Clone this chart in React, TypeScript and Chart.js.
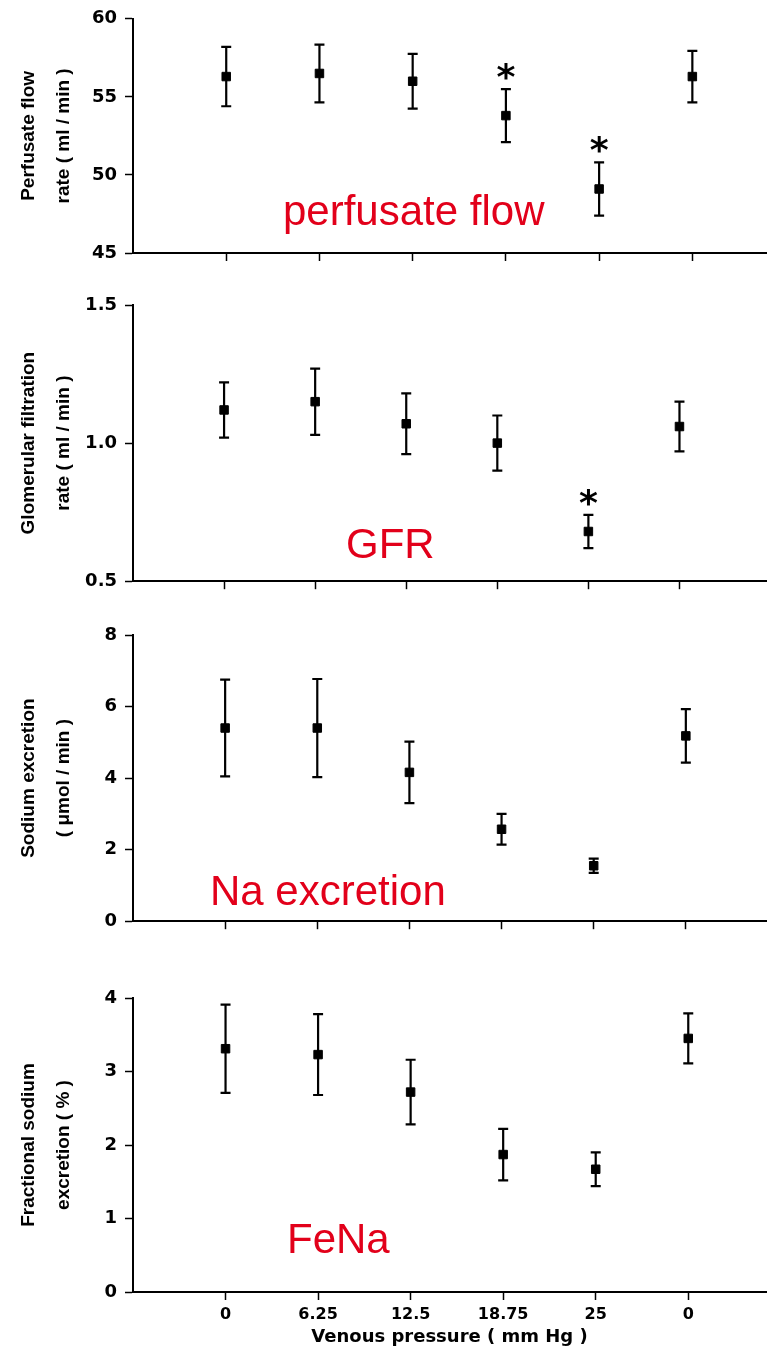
import { useEffect, useRef } from "react";
import { Chart, registerables } from "chart.js";

Chart.register(...registerables);

// Experimental conditions along the x axis (venous pressure steps, then recovery)
const xPositions = [1, 2, 3, 4, 5, 6];
const xTickLabels = ["0", "6.25", "12.5", "18.75", "25", "0"];
const xAxisTitle = "Venous pressure ( mm Hg )";

// Perfusate flow rate (ml/min), mean ± SEM
const flowMean = [56.3, 56.5, 56.0, 53.8, 49.1, 56.3];
const flowErr = [1.9, 1.85, 1.75, 1.7, 1.7, 1.65];
const flowStar = [false, false, false, true, true, false];

// Glomerular filtration rate (ml/min)
const gfrMean = [1.12, 1.15, 1.07, 1.0, 0.68, 1.06];
const gfrErr = [0.1, 0.12, 0.11, 0.1, 0.06, 0.09];
const gfrStar = [false, false, false, false, true, false];

// Sodium excretion (µmol/min)
const naMean = [5.4, 5.4, 4.16, 2.57, 1.55, 5.18];
const naErr = [1.35, 1.37, 0.86, 0.43, 0.2, 0.75];
const naStar = [false, false, false, false, false, false];

// Fractional sodium excretion (%)
const fenaMean = [3.31, 3.23, 2.72, 1.87, 1.67, 3.45];
const fenaErr = [0.6, 0.55, 0.44, 0.35, 0.23, 0.34];
const fenaStar = [false, false, false, false, false, false];

const RED = "#e2001a";
const TICK_FONT = "'DejaVu Sans', Verdana, sans-serif";
const TITLE_FONT = "'Liberation Sans', Arial, Helvetica, sans-serif";

type PanelCfg = {
  top: number;
  height: number;
  padTop: number;
  axisH: number;
  xMax: number;
  yMin: number;
  yMax: number;
  yStep: number;
  decimals: number;
  yTitle: string[];
  mean: number[];
  err: number[];
  star: boolean[];
  note: string;
  noteX: number;
  noteY: number;
  showX: boolean;
};

const panels: PanelCfg[] = [
  {
    top: 0, height: 280, padTop: 18, axisH: 27, xMax: 6.79,
    yMin: 45, yMax: 60, yStep: 5, decimals: 0,
    yTitle: ["Perfusate flow", "rate ( ml / min )"],
    mean: flowMean, err: flowErr, star: flowStar,
    note: "perfusate flow", noteX: 283, noteY: 225, showX: false,
  },
  {
    top: 280, height: 320, padTop: 25, axisH: 16, xMax: 6.95,
    yMin: 0.5, yMax: 1.5, yStep: 0.5, decimals: 1,
    yTitle: ["Glomerular filtration", "rate ( ml / min )"],
    mean: gfrMean, err: gfrErr, star: gfrStar,
    note: "GFR", noteX: 346, noteY: 278, showX: false,
  },
  {
    top: 600, height: 340, padTop: 35, axisH: 15, xMax: 6.87,
    yMin: 0, yMax: 8, yStep: 2, decimals: 0,
    yTitle: ["Sodium excretion", "( μmol / min )"],
    mean: naMean, err: naErr, star: naStar,
    note: "Na excretion", noteX: 210, noteY: 305, showX: false,
  },
  {
    top: 940, height: 417, padTop: 58, axisH: 65, xMax: 6.84,
    yMin: 0, yMax: 4, yStep: 1, decimals: 0,
    yTitle: ["Fractional sodium", "excretion ( % )"],
    mean: fenaMean, err: fenaErr, star: fenaStar,
    note: "FeNa", noteX: 287, noteY: 313, showX: true,
  },
];

// Significance marker, scaled so the glyph has the requested height
function drawStar(ctx: CanvasRenderingContext2D, cx: number, cy: number, glyphH: number) {
  ctx.font = `bold 100px ${TICK_FONT}`;
  const m = ctx.measureText("*");
  const h = m.actualBoundingBoxAscent + m.actualBoundingBoxDescent;
  const size = (glyphH / h) * 100;
  ctx.font = `bold ${size}px ${TICK_FONT}`;
  const m2 = ctx.measureText("*");
  ctx.textAlign = "left";
  ctx.textBaseline = "alphabetic";
  const x = cx - (m2.actualBoundingBoxRight - m2.actualBoundingBoxLeft) / 2;
  const y = cy + (m2.actualBoundingBoxAscent - m2.actualBoundingBoxDescent) / 2;
  ctx.fillStyle = "#000";
  ctx.fillText("*", x, y);
}

function Panel({ cfg }: { cfg: PanelCfg }) {
  const ref = useRef<HTMLCanvasElement>(null);

  useEffect(() => {
    const canvas = ref.current;
    if (!canvas) return;

    const errorBars = {
      id: "errorBars",
      beforeDatasetsDraw(chart: any) {
        const { ctx, scales } = chart;
        const xs = scales.x;
        const ys = scales.y;
        ctx.save();
        ctx.strokeStyle = "#000";
        ctx.lineWidth = 2.2;
        cfg.mean.forEach((m, i) => {
          const px = xs.getPixelForValue(xPositions[i]);
          const top = ys.getPixelForValue(m + cfg.err[i]);
          const bot = ys.getPixelForValue(m - cfg.err[i]);
          ctx.beginPath();
          ctx.moveTo(px, top);
          ctx.lineTo(px, bot);
          ctx.moveTo(px - 5, top);
          ctx.lineTo(px + 5, top);
          ctx.moveTo(px - 5, bot);
          ctx.lineTo(px + 5, bot);
          ctx.stroke();
        });
        ctx.restore();
      },
      afterDatasetsDraw(chart: any) {
        const { ctx, scales } = chart;
        ctx.save();
        cfg.mean.forEach((m, i) => {
          if (!cfg.star[i]) return;
          const px = scales.x.getPixelForValue(xPositions[i]);
          const top = scales.y.getPixelForValue(m + cfg.err[i]);
          drawStar(ctx, px, top - 17.5, 17);
        });
        ctx.restore();
      },
      afterDraw(chart: any) {
        const { ctx } = chart;
        ctx.save();
        ctx.font = `42px ${TITLE_FONT}`;
        ctx.fillStyle = RED;
        ctx.textAlign = "left";
        ctx.textBaseline = "alphabetic";
        ctx.fillText(cfg.note, cfg.noteX, cfg.noteY);
        ctx.restore();
      },
    };

    const chart = new Chart(canvas, {
      type: "scatter",
      data: {
        datasets: [
          {
            data: cfg.mean.map((v, i) => ({ x: xPositions[i], y: v })),
            pointStyle: "rect",
            pointRadius: 6,
            pointHoverRadius: 6,
            backgroundColor: "#000",
            borderColor: "#000",
            borderWidth: 1,
            showLine: false,
            clip: false,
          },
        ],
      },
      options: {
        responsive: false,
        devicePixelRatio: 1,
        animation: false,
        events: [],
        layout: {
          autoPadding: false,
          padding: { top: cfg.padTop, right: 1, left: 0, bottom: 0 },
        },
        plugins: {
          legend: { display: false },
          tooltip: { enabled: false },
        },
        scales: {
          x: {
            type: "linear",
            min: 0,
            max: cfg.xMax,
            afterBuildTicks: (scale: any) => {
              scale.ticks = xPositions.map((v) => ({ value: v }));
            },
            afterFit: (scale: any) => {
              scale.height = cfg.axisH;
            },
            border: { display: true, color: "#000", width: 2 },
            grid: {
              drawOnChartArea: false,
              drawTicks: true,
              tickLength: 8,
              tickColor: "#000",
              tickWidth: 1.5,
            },
            ticks: {
              display: cfg.showX,
              padding: 5,
              color: "#000",
              font: { family: TICK_FONT, size: 16, weight: "bold" },
              maxRotation: 0,
              autoSkip: false,
              callback: (v: any) => xTickLabels[xPositions.indexOf(Number(v))] ?? "",
            },
            title: {
              display: cfg.showX,
              text: xAxisTitle,
              color: "#000",
              font: { family: TICK_FONT, size: 18, weight: "bold", lineHeight: 1.2 },
              padding: { top: 0, bottom: 9 },
            },
          },
          y: {
            type: "linear",
            min: cfg.yMin,
            max: cfg.yMax,
            afterFit: (scale: any) => {
              scale.width = 133;
            },
            border: { display: true, color: "#000", width: 2 },
            grid: {
              drawOnChartArea: false,
              drawTicks: true,
              tickLength: 8,
              tickColor: "#000",
              tickWidth: 1.5,
            },
            ticks: {
              stepSize: cfg.yStep,
              padding: 8,
              color: "#000",
              font: { family: TICK_FONT, size: 18, weight: "bold" },
              callback: (v: any) => Number(v).toFixed(cfg.decimals),
            },
            title: {
              display: true,
              text: cfg.yTitle,
              color: "#000",
              font: { family: TITLE_FONT, size: 19, weight: "bold", lineHeight: 1.85 },
              padding: { top: 11.5, bottom: 0 },
            },
          },
        },
      },
      plugins: [errorBars],
    } as any);

    return () => chart.destroy();
  }, [cfg]);

  return (
    <div style={{ position: "absolute", left: 0, top: cfg.top, width: 767, height: cfg.height }}>
      <canvas
        ref={ref}
        width={767}
        height={cfg.height}
        style={{ width: 767, height: cfg.height, display: "block" }}
      />
    </div>
  );
}

export default function App() {
  return (
    <div
      style={{
        position: "absolute",
        left: 0,
        top: 0,
        width: 767,
        height: 1357,
        background: "#fff",
        overflow: "hidden",
      }}
    >
      {panels.map((p, i) => (
        <Panel key={i} cfg={p} />
      ))}
    </div>
  );
}
